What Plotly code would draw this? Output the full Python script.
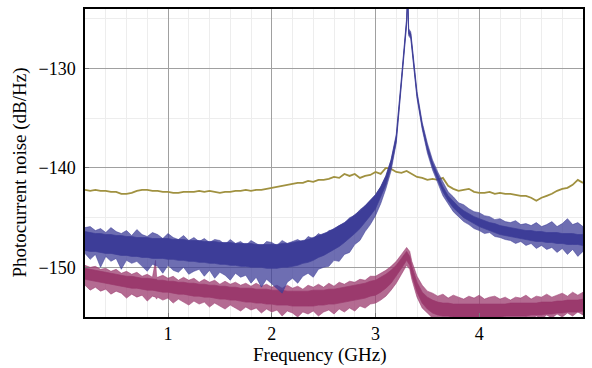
"""
Photocurrent noise spectra: three measured traces versus frequency,
redrawn with plotly. Each noisy trace is drawn as a solid core band plus
a lighter band for the spikes, both read off the original picture.
"""

import plotly.graph_objects as go


GRID_FREQ = [0.20, 0.25, 0.30, 0.35, 0.40, 0.45, 0.50, 0.55, 0.60, 0.65,
             0.70, 0.75, 0.80, 0.85, 0.90, 0.95, 1.00, 1.05, 1.10, 1.15,
             1.20, 1.25, 1.30, 1.35, 1.40, 1.45, 1.50, 1.55, 1.60, 1.65,
             1.70, 1.75, 1.80, 1.85, 1.90, 1.95, 2.00, 2.05, 2.10, 2.15,
             2.20, 2.25, 2.30, 2.35, 2.40, 2.45, 2.50, 2.55, 2.60, 2.65,
             2.70, 2.75, 2.80, 2.85, 2.90, 2.95, 3.00, 3.05, 3.10, 3.15,
             3.20, 3.25, 3.30, 3.35, 3.40, 3.45, 3.50, 3.55, 3.60, 3.65,
             3.70, 3.75, 3.80, 3.85, 3.90, 3.95, 4.00, 4.05, 4.10, 4.15,
             4.20, 4.25, 4.30, 4.35, 4.40, 4.45, 4.50, 4.55, 4.60, 4.65,
             4.70, 4.75, 4.80, 4.85, 4.90, 4.95, 5.00]

# gold trace (smooth), one value per GRID_FREQ point
gold_db = [-142.2, -142.3, -142.2, -142.3, -142.3, -142.4, -142.4, -142.6,
           -142.6, -142.5, -142.3, -142.2, -142.2, -142.3, -142.3, -142.4,
           -142.4, -142.5, -142.5, -142.4, -142.4, -142.4, -142.3, -142.4,
           -142.3, -142.4, -142.5, -142.4, -142.4, -142.3, -142.3, -142.2,
           -142.3, -142.2, -142.2, -142.1, -142.0, -141.9, -141.8, -141.7,
           -141.6, -141.5, -141.5, -141.3, -141.4, -141.2, -141.2, -141.1,
           -140.9, -141.0, -140.6, -140.8, -140.6, -141.0, -140.8, -140.7,
           -140.4, -140.6, -140.0, -140.1, -140.4, -140.5, -140.3, -140.6,
           -140.9, -141.0, -141.2, -141.1, -141.2, -141.0, -141.8, -142.1,
           -142.3, -142.2, -142.1, -142.4, -142.5, -142.5, -142.4, -142.6,
           -142.5, -142.6, -142.6, -142.7, -142.8, -142.8, -143.0, -143.3,
           -143.0, -142.8, -142.6, -142.3, -142.1, -142.0, -141.7, -141.2,
           -141.5]

# blue trace (resonance near 3.3 GHz)
blue_freq = [0.20, 0.25, 0.30, 0.35, 0.40, 0.45, 0.50, 0.55, 0.60, 0.65,
             0.70, 0.75, 0.80, 0.85, 0.90, 0.95, 1.00, 1.05, 1.10, 1.15,
             1.20, 1.25, 1.30, 1.35, 1.40, 1.45, 1.50, 1.55, 1.60, 1.65,
             1.70, 1.75, 1.80, 1.85, 1.90, 1.95, 2.00, 2.05, 2.10, 2.15,
             2.20, 2.25, 2.30, 2.35, 2.40, 2.45, 2.50, 2.55, 2.60, 2.65,
             2.70, 2.75, 2.80, 2.85, 2.90, 2.95, 3.00, 3.05, 3.10, 3.15,
             3.20, 3.25, 3.28, 3.30, 3.31, 3.32, 3.34, 3.36, 3.38, 3.40,
             3.45, 3.50, 3.55, 3.60, 3.65, 3.70, 3.75, 3.80, 3.85, 3.90,
             3.95, 4.00, 4.05, 4.10, 4.15, 4.20, 4.25, 4.30, 4.35, 4.40,
             4.45, 4.50, 4.55, 4.60, 4.65, 4.70, 4.75, 4.80, 4.85, 4.90,
             4.95, 5.00]
blue_core_hi = [
    -146.4, -146.5, -146.6, -146.6, -146.7, -146.7, -146.8, -146.8, -146.9,
    -146.9, -147.0, -147.0, -147.0, -147.1, -147.1, -147.1, -147.1, -147.2,
    -147.2, -147.2, -147.3, -147.3, -147.3, -147.4, -147.4, -147.4, -147.5,
    -147.5, -147.5, -147.6, -147.6, -147.6, -147.6, -147.7, -147.7, -147.7,
    -147.7, -147.7, -147.6, -147.6, -147.5, -147.4, -147.3, -147.2, -147.0,
    -146.8, -146.6, -146.4, -146.1, -145.8, -145.5, -145.1, -144.7, -144.3,
    -143.8, -143.2, -142.7, -141.9, -140.8, -139.2, -136.8, -131.1, -127.7,
    -125.1, -122.6, -126.2, -126.5, -128.5, -130.6, -132.5, -135.6, -137.8,
    -139.5, -140.8, -141.9, -142.8, -143.4, -143.9, -144.3, -144.6, -144.9,
    -145.1, -145.3, -145.5, -145.6, -145.8, -145.9, -146.0, -146.1, -146.2,
    -146.3, -146.3, -146.4, -146.4, -146.5, -146.5, -146.5, -146.6, -146.6,
    -146.6, -146.7, -146.7]
blue_core_lo = [
    -148.3, -148.4, -148.4, -148.5, -148.6, -148.6, -148.7, -148.8, -148.8,
    -148.9, -148.9, -149.0, -149.0, -149.1, -149.1, -149.1, -149.2, -149.2,
    -149.3, -149.3, -149.4, -149.4, -149.5, -149.5, -149.6, -149.6, -149.7,
    -149.7, -149.8, -149.8, -149.9, -149.9, -150.0, -150.0, -150.0, -150.1,
    -150.1, -150.1, -150.0, -150.0, -149.9, -149.8, -149.6, -149.5, -149.3,
    -149.0, -148.8, -148.5, -148.2, -147.9, -147.5, -147.1, -146.6, -146.1,
    -145.5, -144.8, -144.1, -143.0, -141.7, -139.9, -137.3, -131.4, -128.0,
    -125.4, -122.9, -126.5, -126.8, -128.8, -130.9, -132.8, -135.9, -138.2,
    -139.9, -141.2, -142.4, -143.3, -144.0, -144.5, -145.0, -145.3, -145.6,
    -145.9, -146.1, -146.3, -146.5, -146.7, -146.8, -146.9, -147.0, -147.1,
    -147.2, -147.3, -147.4, -147.4, -147.5, -147.5, -147.6, -147.6, -147.7,
    -147.7, -147.7, -147.8]
blue_spike_hi = [
    -146.0, -145.9, -146.3, -146.1, -146.5, -146.0, -146.4, -146.6, -146.3,
    -146.8, -146.2, -146.7, -146.9, -146.5, -146.7, -147.1, -146.6, -147.0,
    -147.2, -146.8, -147.3, -147.0, -147.4, -147.1, -147.5, -147.2, -147.3,
    -147.7, -147.2, -147.6, -147.4, -147.8, -147.3, -147.6, -147.9, -147.4,
    -147.5, -147.8, -147.3, -147.6, -147.4, -147.2, -147.5, -146.9, -147.1,
    -146.6, -146.9, -146.3, -146.2, -145.8, -145.6, -145.0, -144.8, -144.2,
    -143.8, -143.2, -142.7, -141.9, -140.8, -139.2, -136.6, -130.9, -127.5,
    -124.9, -122.4, -126.0, -126.3, -128.3, -130.4, -132.3, -135.4, -137.5,
    -139.2, -140.4, -141.4, -142.4, -142.9, -143.5, -143.7, -144.1, -144.4,
    -144.5, -144.8, -144.9, -145.2, -145.1, -145.4, -145.5, -145.3, -145.7,
    -145.6, -145.8, -145.5, -145.9, -145.7, -145.4, -145.9, -145.6, -145.1,
    -145.7, -145.5, -145.9]
blue_spike_lo = [
    -148.6, -149.2, -148.7, -150.0, -148.9, -149.4, -149.1, -150.2, -149.3,
    -149.6, -149.4, -149.9, -150.4, -149.7, -149.9, -150.6, -149.8, -150.3,
    -150.5, -150.0, -150.7, -150.4, -150.2, -150.9, -150.3, -151.1, -150.5,
    -150.8, -151.3, -150.6, -151.0, -150.8, -151.6, -151.0, -152.0, -151.2,
    -151.7, -152.1, -152.6, -151.5, -151.1, -151.6, -150.9, -150.6, -151.0,
    -150.2, -150.0, -149.9, -149.3, -149.4, -148.7, -148.5, -147.7, -147.3,
    -146.4, -145.7, -144.8, -143.6, -142.1, -140.3, -137.5, -131.6, -128.2,
    -125.6, -123.1, -126.7, -127.0, -129.0, -131.1, -133.0, -136.1, -138.5,
    -140.2, -141.5, -142.8, -143.6, -144.4, -144.9, -145.4, -145.7, -146.1,
    -146.3, -146.6, -146.5, -146.9, -147.0, -147.2, -147.3, -147.6, -147.4,
    -147.8, -147.6, -148.1, -147.8, -148.2, -148.0, -148.5, -148.1, -148.7,
    -148.2, -148.9, -148.4]

# magenta trace (spur near 0.88 GHz, small peak near 3.3 GHz)
mag_freq = [0.20, 0.25, 0.30, 0.35, 0.40, 0.45, 0.50, 0.55, 0.60, 0.65,
            0.70, 0.75, 0.80, 0.85, 0.88, 0.89, 0.90, 0.95, 1.00, 1.05,
            1.10, 1.15, 1.20, 1.25, 1.30, 1.35, 1.40, 1.45, 1.50, 1.55,
            1.60, 1.65, 1.70, 1.75, 1.80, 1.85, 1.90, 1.95, 2.00, 2.05,
            2.10, 2.15, 2.20, 2.25, 2.30, 2.35, 2.40, 2.45, 2.50, 2.55,
            2.60, 2.65, 2.70, 2.75, 2.80, 2.85, 2.90, 2.95, 3.00, 3.05,
            3.10, 3.15, 3.20, 3.25, 3.30, 3.33, 3.35, 3.40, 3.45, 3.50,
            3.55, 3.60, 3.65, 3.70, 3.75, 3.80, 3.85, 3.90, 3.95, 4.00,
            4.05, 4.10, 4.15, 4.20, 4.25, 4.30, 4.35, 4.40, 4.45, 4.50,
            4.55, 4.60, 4.65, 4.70, 4.75, 4.80, 4.85, 4.90, 4.95, 5.00]
mag_core_hi = [
    -150.1, -150.2, -150.3, -150.4, -150.5, -150.6, -150.7, -150.8, -150.9,
    -150.9, -151.0, -151.1, -151.1, -151.2, -151.2, -151.2, -151.3, -151.3,
    -151.4, -151.4, -151.5, -151.5, -151.6, -151.6, -151.7, -151.7, -151.8,
    -151.8, -151.9, -151.9, -152.0, -152.0, -152.1, -152.1, -152.1, -152.2,
    -152.2, -152.2, -152.3, -152.3, -152.3, -152.4, -152.4, -152.4, -152.4,
    -152.4, -152.3, -152.3, -152.3, -152.2, -152.2, -152.1, -152.0, -151.9,
    -151.8, -151.7, -151.6, -151.4, -151.3, -151.0, -150.7, -150.3, -149.8,
    -149.1, -148.4, -148.9, -149.9, -151.5, -152.5, -153.0, -153.3, -153.5,
    -153.6, -153.6, -153.7, -153.7, -153.7, -153.7, -153.7, -153.7, -153.7,
    -153.7, -153.7, -153.7, -153.7, -153.6, -153.6, -153.6, -153.6, -153.6,
    -153.6, -153.5, -153.5, -153.5, -153.4, -153.4, -153.3, -153.3, -153.3,
    -153.2]
mag_core_lo = [
    -151.2, -151.3, -151.4, -151.5, -151.6, -151.7, -151.8, -151.9, -152.0,
    -152.1, -152.1, -152.2, -152.3, -152.3, -152.4, -152.4, -152.4, -152.5,
    -152.5, -152.6, -152.7, -152.7, -152.8, -152.9, -152.9, -153.0, -153.0,
    -153.1, -153.2, -153.2, -153.3, -153.3, -153.4, -153.5, -153.5, -153.6,
    -153.6, -153.7, -153.7, -153.8, -153.8, -153.8, -153.9, -153.9, -153.9,
    -153.9, -153.9, -153.8, -153.8, -153.7, -153.7, -153.6, -153.5, -153.4,
    -153.3, -153.2, -153.1, -152.9, -152.8, -152.5, -152.1, -151.6, -150.9,
    -150.1, -149.3, -149.8, -150.8, -152.5, -153.6, -154.2, -154.6, -154.8,
    -154.9, -154.9, -155.0, -155.0, -155.0, -155.0, -155.0, -155.0, -155.0,
    -155.0, -155.0, -155.0, -154.9, -154.9, -154.9, -154.9, -154.9, -154.8,
    -154.8, -154.8, -154.7, -154.7, -154.6, -154.6, -154.5, -154.5, -154.5,
    -154.4]
mag_spike_hi = [
    -149.8, -150.0, -149.9, -150.2, -150.1, -150.4, -150.2, -150.6, -150.4,
    -150.7, -150.5, -150.9, -150.7, -151.0, -149.3, -150.9, -151.0, -150.8,
    -151.1, -150.9, -151.3, -151.0, -151.3, -151.1, -151.5, -151.2, -151.5,
    -151.3, -151.7, -151.4, -151.7, -151.5, -151.8, -151.6, -151.9, -151.6,
    -151.9, -151.7, -152.0, -151.8, -152.1, -151.8, -152.1, -151.9, -152.2,
    -151.8, -152.0, -151.7, -152.0, -151.6, -151.9, -151.5, -151.7, -151.4,
    -151.5, -151.2, -151.3, -150.9, -150.9, -150.6, -150.3, -149.9, -149.4,
    -148.7, -148.0, -148.4, -149.4, -150.9, -151.8, -152.4, -152.6, -152.9,
    -152.7, -153.1, -152.8, -153.0, -153.2, -152.9, -153.1, -152.8, -153.2,
    -153.0, -152.9, -153.2, -153.0, -153.3, -153.0, -153.1, -152.8, -153.2,
    -152.9, -153.0, -152.7, -153.0, -152.8, -152.6, -152.9, -152.5, -152.8,
    -152.5]
mag_spike_lo = [
    -151.8, -152.3, -152.0, -152.4, -152.2, -152.7, -152.4, -152.6, -153.1,
    -152.7, -153.0, -152.8, -153.4, -152.9, -153.0, -153.2, -153.0, -153.3,
    -153.1, -153.6, -153.2, -153.5, -153.8, -153.4, -153.7, -153.5, -154.0,
    -153.6, -153.9, -154.2, -153.8, -154.1, -154.4, -154.0, -154.3, -154.1,
    -154.6, -154.2, -154.5, -154.3, -154.9, -154.4, -154.6, -155.0, -154.5,
    -154.7, -154.4, -154.9, -154.5, -154.3, -154.7, -154.2, -154.5, -154.1,
    -154.4, -153.9, -154.1, -153.7, -153.6, -153.3, -152.9, -152.3, -151.6,
    -150.7, -149.8, -150.2, -151.2, -153.0, -154.1, -154.6, -155.1, -155.4,
    -155.3, -155.5, -155.2, -155.6, -155.3, -155.5, -155.2, -155.4, -155.1,
    -155.5, -155.2, -155.4, -155.0, -155.3, -155.1, -155.4, -155.0, -155.2,
    -154.9, -155.2, -154.8, -155.1, -154.7, -155.0, -154.6, -154.9, -154.5,
    -154.8]

X_TICKS = [1, 2, 3, 4]
Y_TICKS = [-150, -140, -130]

GOLD = '#a09140'
BLUE = (61, 61, 152)
MAGENTA = (155, 58, 109)
FONT = 'Liberation Serif, DejaVu Serif, serif'


def band(freq, hi, lo, rgb, alpha):
    """
    Builds a filled polygon between the upper and lower edge of a noisy
    trace, so the dense noise reads as a band.
    """
    color = 'rgba(%d,%d,%d,%.2f)' % (rgb[0], rgb[1], rgb[2], alpha)
    return go.Scatter(x=freq + freq[::-1], y=hi + lo[::-1],
                      fill='toself', fillcolor=color, mode='lines',
                      line=dict(color=color, width=0.7),
                      hoverinfo='skip', showlegend=False)


def make_figure():
    """
    Puts the three traces together and styles the axes like the
    original pgfplots figure.
    """
    fig = go.Figure()
    fig.add_trace(go.Scatter(x=GRID_FREQ, y=gold_db, mode='lines',
                             line=dict(color=GOLD, width=1.8),
                             showlegend=False))
    fig.add_trace(band(mag_freq, mag_spike_hi, mag_spike_lo, MAGENTA, 0.75))
    fig.add_trace(band(mag_freq, mag_core_hi, mag_core_lo, MAGENTA, 1.0))
    fig.add_trace(band(blue_freq, blue_spike_hi, blue_spike_lo, BLUE, 0.75))
    fig.add_trace(band(blue_freq, blue_core_hi, blue_core_lo, BLUE, 1.0))

    axis_common = dict(showline=True, linecolor='black', linewidth=1.5,
                       mirror=True, ticks='inside', ticklen=4,
                       tickcolor='#777777', showgrid=True,
                       gridcolor='#a0a0a0', gridwidth=0.8, zeroline=False,
                       tickfont=dict(family=FONT, size=18, color='black'))
    fig.update_xaxes(range=[0.2, 5.0], tickvals=X_TICKS,
                     minor=dict(dtick=0.2, tick0=0, showgrid=True,
                                gridcolor='#ededed', gridwidth=0.8),
                     **axis_common)
    fig.update_yaxes(range=[-155, -124], tickvals=Y_TICKS, ticklabelstandoff=4,
                     minor=dict(dtick=5, tick0=0, showgrid=True,
                                gridcolor='#ededed', gridwidth=0.8),
                     **axis_common)
    title_font = dict(family=FONT, size=19, color='black')
    fig.add_annotation(text='Frequency (GHz)', xref='paper', yref='paper',
                       x=0.47, y=-0.08, yanchor='top', showarrow=False,
                       font=title_font)
    fig.add_annotation(text='Photocurrent noise (dB/Hz)', xref='paper',
                       yref='paper', x=-0.13, y=0.47, xanchor='center',
                       textangle=-90, showarrow=False, font=title_font)
    fig.update_layout(width=592, height=368,
                      font=dict(family=FONT, color='black'),
                      margin=dict(l=85, r=7, t=8, b=51),
                      plot_bgcolor='white', paper_bgcolor='white')
    return fig


def main():
    fig = make_figure()
    # the page's default body margin would shift the figure by 8px
    fig.write_html('out.html', config={'displayModeBar': False},
                   post_script="document.body.style.margin='0';")


if __name__ == '__main__':
    main()
